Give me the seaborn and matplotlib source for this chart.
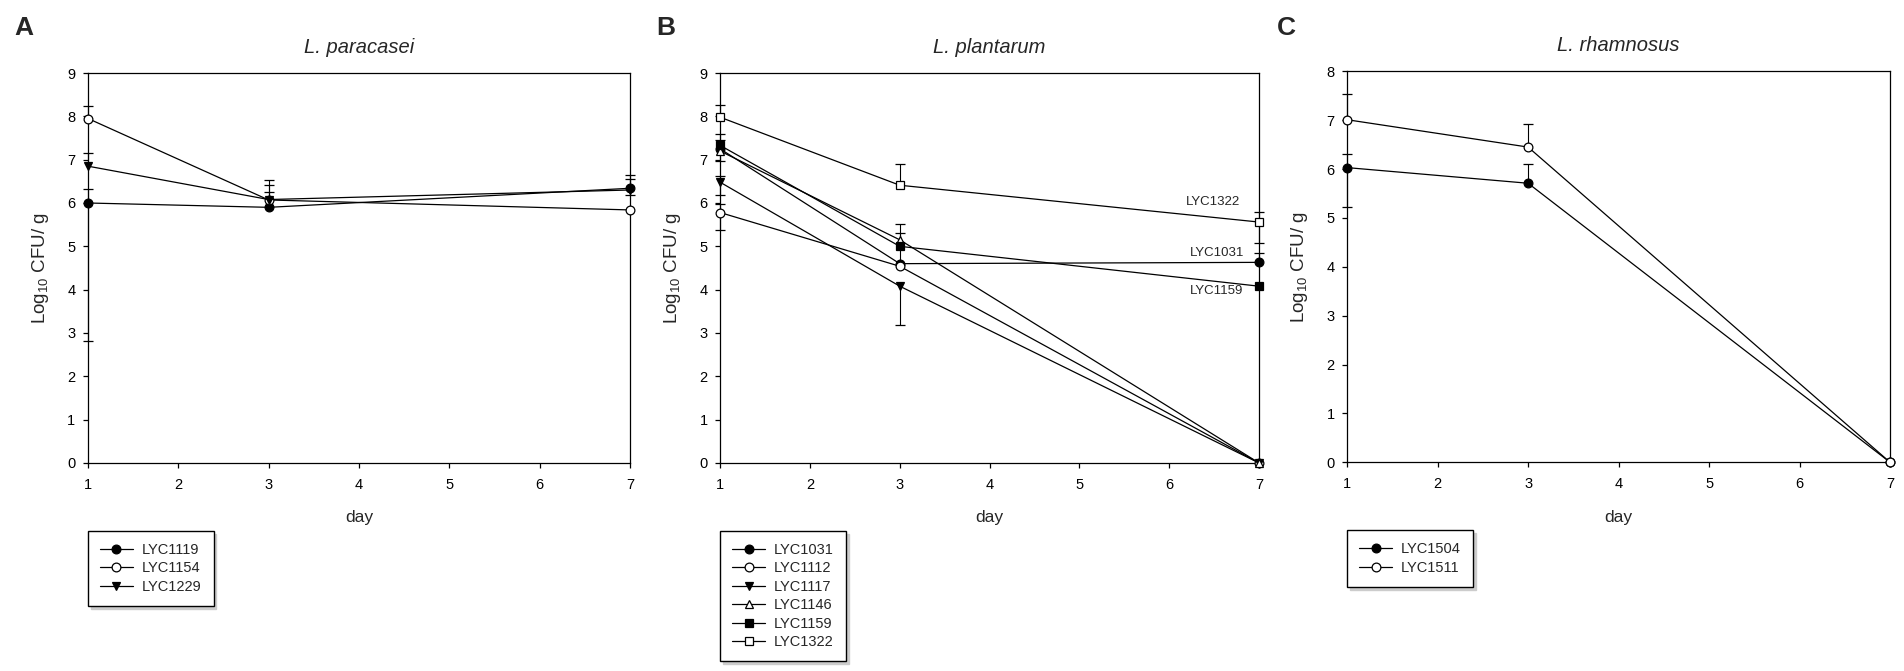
import numpy as np
import matplotlib
matplotlib.use("Agg")
import matplotlib.pyplot as plt
import seaborn as sns

days = [1, 3, 7]

# A: L. paracasei
lyc1119 = [6.00, 5.90, 6.34]
lyc1119_up = [0.33, 0.36, 0.31]
lyc1119_lo = [3.18, 0.00, 0.15]
lyc1154 = [7.95, 6.07, 5.84]
lyc1154_up = [0.29, 0.45, 0.00]
lyc1154_lo = [0.00, 0.00, 0.00]
lyc1229 = [6.85, 6.08, 6.30]
lyc1229_up = [0.30, 0.33, 0.26]
lyc1229_lo = [0.00, 0.00, 0.00]

# B: L. plantarum
lyc1031 = [7.25, 4.60, 4.63]
lyc1031_up = [0.21, 0.70, 0.22]
lyc1031_lo = [0.00, 0.00, 0.00]
lyc1112 = [5.78, 4.54, 0.00]
lyc1112_up = [0.20, 0.00, 0.00]
lyc1112_lo = [0.40, 0.00, 0.00]
lyc1117 = [6.48, 4.08, 0.00]
lyc1117_up = [0.15, 0.00, 0.00]
lyc1117_lo = [0.29, 0.89, 0.00]
lyc1146 = [7.20, 5.15, 0.00]
lyc1146_up = [0.00, 0.00, 0.00]
lyc1146_lo = [0.22, 0.00, 0.00]
lyc1159 = [7.33, 5.00, 4.08]
lyc1159_up = [0.27, 0.52, 0.00]
lyc1159_lo = [0.00, 0.00, 0.00]
lyc1322 = [7.98, 6.41, 5.56]
lyc1322_up = [0.29, 0.50, 0.24]
lyc1322_lo = [0.00, 0.00, 0.48]

# C: L. rhamnosus
lyc1504 = [6.03, 5.71, 0.00]
lyc1504_up = [0.28, 0.39, 0.00]
lyc1504_lo = [0.80, 0.00, 0.00]
lyc1511 = [7.01, 6.45, 0.00]
lyc1511_up = [0.53, 0.47, 0.00]
lyc1511_lo = [0.00, 0.00, 0.00]

sns.set_style("ticks")
plt.rcParams['font.family'] = ['Liberation Sans', 'DejaVu Sans']
plt.rcParams['axes.linewidth'] = 0.9
plt.rcParams['xtick.major.width'] = 0.9
plt.rcParams['ytick.major.width'] = 0.9
plt.rcParams['xtick.major.size'] = 3.5
plt.rcParams['ytick.major.size'] = 3.5


def draw_series(ax, name, vals, up, lo, marker, filled, ms=6.3):
    x = np.array(days, dtype=float)
    y = np.array(vals, dtype=float)
    up = np.array(up)
    lo = np.array(lo)
    # error bars, only the parts that exist
    for err, sign in ((up, 1), (lo, -1)):
        m = err > 0
        if m.any():
            ends = y[m] + sign * err[m]
            ax.vlines(x[m], y[m], ends, color='black', lw=0.8, zorder=1.5, clip_on=False)
            ax.plot(x[m], ends, ls='none', marker='_', ms=7, mew=0.9,
                    color='black', zorder=1.5, clip_on=False)
    sns.lineplot(x=x, y=y, ax=ax, color='black', lw=0.9, marker=marker,
                 markersize=ms, markerfacecolor='black' if filled else 'white',
                 markeredgecolor='black', markeredgewidth=0.9,
                 label=name, clip_on=False, zorder=3, legend=False)


def style_axes(ax, title, ymax):
    ax.set_xlim(1, 7)
    ax.set_ylim(0, ymax)
    ax.set_xticks(range(1, 8))
    ax.set_yticks(range(0, ymax + 1))
    for s in ax.spines.values():
        s.set_visible(True)
        s.set_color('black')
    ax.tick_params(axis='both', labelsize=10.5, colors='black')
    ax.tick_params(axis='x', pad=7)
    ax.tick_params(axis='y', pad=5.5)
    ax.set_xlabel('day', fontsize=12.5, labelpad=13.5)
    ax.set_ylabel(r'Log$_{\mathregular{10}}$ CFU/ g', fontsize=13.5, labelpad=12)
    ax.set_title(title, fontsize=14.5, style='italic', pad=14.5)
    leg = ax.legend(loc='upper left', bbox_to_anchor=(0, -0.174), borderaxespad=0,
                    frameon=True, fancybox=False, edgecolor='black', framealpha=1,
                    borderpad=0.82, labelspacing=0.31, handlelength=2.26,
                    handletextpad=0.62, fontsize=10.5,
                    shadow={'color': '0.8', 'alpha': 1})
    leg.get_frame().set_linewidth(1.0)


fig = plt.figure(figsize=(19.04, 6.71), dpi=100)
axA = fig.add_axes([0.0462, 0.310, 0.2847, 0.5812])
axB = fig.add_axes([0.3782, 0.310, 0.2831, 0.5812])
axC = fig.add_axes([0.7075, 0.311, 0.2852, 0.5827])

draw_series(axA, 'LYC1119', lyc1119, lyc1119_up, lyc1119_lo, 'o', True)
draw_series(axA, 'LYC1154', lyc1154, lyc1154_up, lyc1154_lo, 'o', False)
draw_series(axA, 'LYC1229', lyc1229, lyc1229_up, lyc1229_lo, 'v', True)
style_axes(axA, 'L. paracasei', 9)

draw_series(axB, 'LYC1031', lyc1031, lyc1031_up, lyc1031_lo, 'o', True)
draw_series(axB, 'LYC1112', lyc1112, lyc1112_up, lyc1112_lo, 'o', False)
draw_series(axB, 'LYC1117', lyc1117, lyc1117_up, lyc1117_lo, 'v', True)
draw_series(axB, 'LYC1146', lyc1146, lyc1146_up, lyc1146_lo, '^', False)
draw_series(axB, 'LYC1159', lyc1159, lyc1159_up, lyc1159_lo, 's', True, ms=6)
draw_series(axB, 'LYC1322', lyc1322, lyc1322_up, lyc1322_lo, 's', False, ms=6)
style_axes(axB, 'L. plantarum', 9)
axB.text(6.79, 6.03, 'LYC1322', ha='right', va='center', fontsize=9.5)
axB.text(6.83, 4.85, 'LYC1031', ha='right', va='center', fontsize=9.5)
axB.text(6.82, 3.98, 'LYC1159', ha='right', va='center', fontsize=9.5)

draw_series(axC, 'LYC1504', lyc1504, lyc1504_up, lyc1504_lo, 'o', True)
draw_series(axC, 'LYC1511', lyc1511, lyc1511_up, lyc1511_lo, 'o', False)
style_axes(axC, 'L. rhamnosus', 8)

for letter, xp in (('A', 24), ('B', 666), ('C', 1286)):
    fig.text(xp / 1904, 1 - 28 / 671, letter, ha='center', va='center',
             fontsize=19, fontweight='bold')

fig.savefig('out.png', dpi=100)
